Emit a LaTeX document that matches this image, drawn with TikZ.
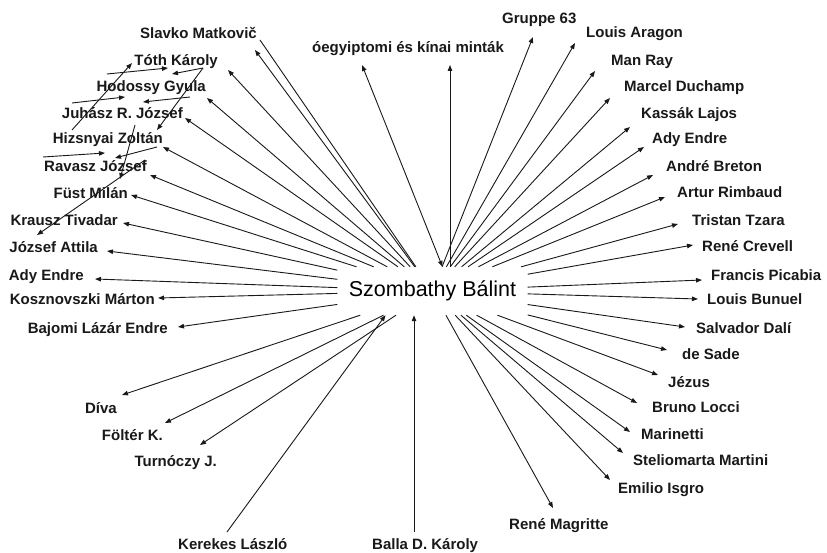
\documentclass[tikz,border=0pt]{standalone}
\usepackage{fontspec}
\setmainfont{Liberation Sans}
\usetikzlibrary{arrows.meta}
\begin{document}
\begin{tikzpicture}[x=1pt,y=-1pt,
  person/.style={font=\bfseries\fontsize{15}{18}\selectfont, inner sep=0pt, text=black!90},
  lt/.style={person, anchor=base east},
  rt/.style={person, anchor=base west},
  wire/.style={line width=0.9pt, black!90},
  link/.style={wire, -{Triangle[length=6pt,width=4.5pt]}},
  both/.style={wire, {Triangle[length=6pt,width=4.5pt]}-{Triangle[length=6pt,width=4.5pt]}},
]
\useasboundingbox[fill=white] (0,0) rectangle (827,553);

% central name
\node[font=\fontsize{21.5}{24}\selectfont, minimum width=190pt, minimum height=48pt, inner sep=0pt] (c) at (432.5,291) {Szombathy Bálint};

% names on the left
\node[lt] (slavko)   at (257,39)  {Slavko Matkovič};
\node[lt] (toth)     at (218,66)  {Tóth Károly};
\node[lt] (hodossy)  at (206,92)  {Hodossy Gyula};
\node[lt] (juhasz)   at (183,119) {Juhász R. József};
\node[lt] (hizsnyai) at (163,144) {Hizsnyai Zoltán};
\node[lt] (ravasz)   at (147,172) {Ravasz József};
\node[lt] (fust)     at (128,199) {Füst Milán};
\node[lt] (krausz)   at (118,226) {Krausz Tivadar};
\node[lt] (jozsef)   at (98,253)  {József Attila};
\node[lt] (ady1)     at (84,280)  {Ady Endre};
\node[lt] (kosz)     at (155,305) {Kosznovszki Márton};
\node[lt] (bajomi)   at (168,333) {Bajomi Lázár Endre};
\node[lt] (diva)     at (117,413) {Díva};
\node[lt] (folter)   at (163,440) {Föltér K.};
\node[lt] (turnoczy) at (217,466) {Turnóczy J.};

% names on top and bottom
\node[rt] (egypt)    at (312,53)  {óegyiptomi és kínai minták};
\node[rt] (kerekes)  at (178,549) {Kerekes László};
\node[rt] (balla)    at (372,549) {Balla D. Károly};
\node[rt] (magritte) at (509,529) {René Magritte};

% names on the right
\node[rt] (gruppe)    at (502,24)  {Gruppe 63};
\node[rt] (aragon)    at (586,38)  {Louis Aragon};
\node[rt] (manray)    at (611,66)  {Man Ray};
\node[rt] (duchamp)   at (624,92)  {Marcel Duchamp};
\node[rt] (kassak)    at (641,119) {Kassák Lajos};
\node[rt] (ady2)      at (652,144) {Ady Endre};
\node[rt] (breton)    at (666,172) {André Breton};
\node[rt] (rimbaud)   at (677,198) {Artur Rimbaud};
\node[rt] (tzara)     at (692,226) {Tristan Tzara};
\node[rt] (crevell)   at (702,252) {René Crevell};
\node[rt] (picabia)   at (711,280) {Francis Picabia};
\node[rt] (bunuel)    at (707,305) {Louis Bunuel};
\node[rt] (dali)      at (696,333) {Salvador Dalí};
\node[rt] (sade)      at (682,359) {de Sade};
\node[rt] (jezus)     at (668,387) {Jézus};
\node[rt] (locci)     at (652,412) {Bruno Locci};
\node[rt] (marinetti) at (641,439) {Marinetti};
\node[rt] (martini)   at (633,465) {Steliomarta Martini};
\node[rt] (isgro)     at (618,493) {Emilio Isgro};

% rays to the left
\draw[wire] (c) -- ([shift={(3,1)}]slavko.base east);
\draw[link] (c) -- ([shift={(-2,11)}]slavko.base east);
\draw[link] (c) -- ([shift={(10,4)}]toth.base east);
\draw[link] (c) -- ([shift={(1,6)}]hodossy.base east);
\draw[link] (c) -- ([shift={(2,-1)}]juhasz.base east);
\draw[link] (c) -- ([shift={(0,3)}]hizsnyai.base east);
\draw[link] (c) -- ([shift={(3,3)}]ravasz.base east);
\draw[link] (c) -- ([shift={(3,-4)}]fust.base east);
\draw[link] (c) -- ([shift={(5,-3)}]krausz.base east);
\draw[link] (c) -- ([shift={(9,-2)}]jozsef.base east);
\draw[link] (c) -- ([shift={(11,-1)}]ady1.base east);
\draw[link] (c) -- ([shift={(3,-7)}]kosz.base east);
\draw[link] (c) -- ([shift={(10,-6)}]bajomi.base east);
\draw[link] (c) -- ([shift={(5,-18)}]diva.base east);
\draw[link] (c) -- ([shift={(2,-17)}]folter.base east);
\draw[link] (c) -- ([shift={(-17,-21)}]turnoczy.base east);

% rays upwards and the two arrows from below
\draw[both] ([xshift=10pt]c.north) -- ([shift={(50,12)}]egypt.base west);
\coordinate (egypttip) at ([shift={(138,12)}]egypt.base west);
\draw[link] (egypttip |- c.north) -- (egypttip);
\draw[link] ([shift={(49,-17)}]kerekes.base west) -- ([xshift=-47pt]c.south);
\coordinate (ballafoot) at ([shift={(42,-17)}]balla.base west);
\draw[link] (ballafoot) -- (ballafoot |- c.south);

% rays to the right
\draw[link] (c) -- ([shift={(31,13)}]gruppe.base west);
\draw[link] (c) -- ([shift={(-11,5)}]aragon.base west);
\draw[link] (c) -- ([shift={(-16,5)}]manray.base west);
\draw[link] (c) -- ([shift={(-14,6)}]duchamp.base west);
\draw[link] (c) -- ([shift={(-11,8)}]kassak.base west);
\draw[link] (c) -- ([shift={(-8,3)}]ady2.base west);
\draw[link] (c) -- ([shift={(-13,3)}]breton.base west);
\draw[link] (c) -- ([shift={(-12,-1)}]rimbaud.base west);
\draw[link] (c) -- ([shift={(-14,-2)}]tzara.base west);
\draw[link] (c) -- ([shift={(-9,-7)}]crevell.base west);
\draw[link] (c) -- ([shift={(-9,0)}]picabia.base west);
\draw[link] (c) -- ([shift={(-9,-6)}]bunuel.base west);
\draw[link] (c) -- ([shift={(-11,-6)}]dali.base west);
\draw[link] (c) -- ([shift={(-15,-9)}]sade.base west);
\draw[link] (c) -- ([shift={(-10,-12)}]jezus.base west);
\draw[link] (c) -- ([shift={(-15,-9)}]locci.base west);
\draw[link] (c) -- ([shift={(-11,-7)}]marinetti.base west);
\draw[link] (c) -- ([shift={(-10,-12)}]martini.base west);
\draw[link] (c) -- ([shift={(-8,-13)}]isgro.base west);
\draw[link] (c) -- ([shift={(44,-21)}]magritte.base west);

% cross references among the names in the upper left
\coordinate (a0) at (72,130);  \coordinate (a1) at (132,63);
\coordinate (b0) at (107,74);  \coordinate (b1) at (168,68);
\coordinate (d0) at (203,68);  \coordinate (c1) at (172,74);
\coordinate (d1) at (157,130);
\coordinate (e0) at (72,103);  \coordinate (e1) at (125,97);
\coordinate (f0) at (190,97);  \coordinate (f1) at (143,102);
\coordinate (g0) at (135,125); \coordinate (g1) at (120,179);
\coordinate (h0) at (43,157);  \coordinate (h1) at (105,153);
\coordinate (i0) at (157,147); \coordinate (i1) at (115,158);
\coordinate (j0) at (145,160); \coordinate (j1) at (37,235);
\draw[link] (a0) -- (a1);
\draw[link] (b0) -- (b1);
\draw[link] (d0) -- (c1);
\draw[link] (d0) -- (d1);
\draw[link] (e0) -- (e1);
\draw[link] (f0) -- (f1);
\draw[link] (g0) -- (g1);
\draw[link] (h0) -- (h1);
\draw[link] (i0) -- (i1);
\draw[link] (j0) -- (j1);
\end{tikzpicture}
\end{document}
